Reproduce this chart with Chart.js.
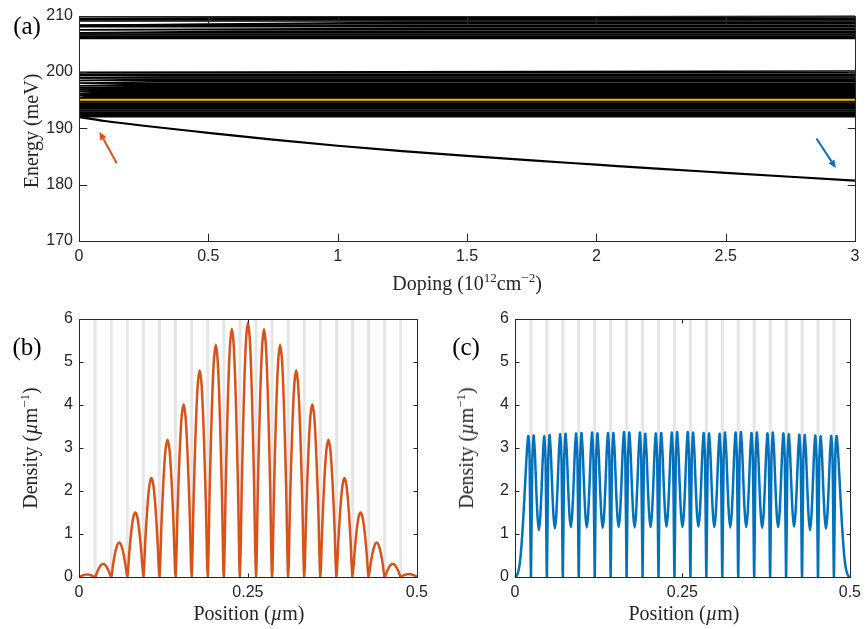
<!DOCTYPE html>
<html><head><meta charset="utf-8">
<script src="https://cdn.jsdelivr.net/npm/chart.js@4"></script>
<style>
html,body{margin:0;padding:0;background:#fff;}
body{width:867px;height:629px;position:relative;overflow:hidden;}
canvas{position:absolute;}
.t{position:absolute;font-family:'Liberation Serif','DejaVu Serif',serif;font-size:20px;color:#262626;white-space:nowrap;line-height:1;transform:translate(-50%,-50%);}
.t.rot{transform:translate(-50%,-50%) rotate(-90deg);}
.t sup{font-size:13px;position:relative;top:-8px;vertical-align:baseline;line-height:0;}
.p{position:absolute;font-family:'Liberation Serif','DejaVu Serif',serif;font-size:25px;color:#000;line-height:1;transform:translate(-50%,-50%);}
</style></head><body>
<canvas id="ca" width="867" height="300" style="left:0;top:0"></canvas>
<canvas id="cb" width="434" height="329" style="left:0;top:300px"></canvas>
<canvas id="cc" width="433" height="329" style="left:434px;top:300px"></canvas>
<div class="p" style="left:27px;top:25px">(a)</div>
<div class="p" style="left:27px;top:346px">(b)</div>
<div class="p" style="left:466px;top:346px">(c)</div>
<div class="t rot" style="left:31px;top:131px">Energy (meV)</div>
<div class="t" style="left:467px;top:283px">Doping (10<sup>12</sup>cm<sup>−2</sup>)</div>
<div class="t rot" style="left:30px;top:448px">Density (<i>µ</i>m<sup>−1</sup>)</div>
<div class="t rot" style="left:466px;top:448px">Density (<i>µ</i>m<sup>−1</sup>)</div>
<div class="t" style="left:249px;top:613px">Position (<i>µ</i>m)</div>
<div class="t" style="left:684px;top:613px">Position (<i>µ</i>m)</div>
<script>
// ---------------- data: panel (a) ----------------
const dopingTicks = [0, 0.5, 1, 1.5, 2, 2.5, 3];          // 10^12 cm^-2
const dopingTickLabels = ['0', '0.5', '1', '1.5', '2', '2.5', '3'];
const energyTicks = [170, 180, 190, 200, 210];              // meV
const energyTickLabels = ['170', '180', '190', '200', '210'];
const dopingRange = [0, 3];
// lower miniband: levels that stay flat with doping (meV)
const minibandLowFlat = [192.05,192.25,192.45,192.65,192.85,193.05,193.25,193.45,193.65,193.85,
  194.05,194.25,194.45,194.65,194.85,195.05,195.25,195.45,195.86,196.19,196.57,196.92,197.21,
  197.57,198.01,198.48,198.92,199.33,199.6,199.86];
// lower miniband: levels that move with doping, [doping, energy] vertices
const minibandLowMoving = [
  [[0,199.95],[3,200.18]],
  [[0,195.45],[0.03,195.655],[3,195.655]],
  [[0,195.86],[0.05,196.025],[3,196.025]],
  [[0,196.19],[0.08,196.38],[3,196.38]],
  [[0,196.57],[0.10,196.745],[3,196.745]],
  [[0,196.92],[0.13,197.065],[3,197.065]],
  [[0,197.21],[0.20,197.39],[3,197.39]],
  [[0,197.57],[0.22,197.79],[3,197.79]],
  [[0,198.01],[0.29,198.245],[3,198.245]],
  [[0,198.48],[0.30,198.70],[3,198.70]],
  [[0,198.92],[0.32,199.125],[3,199.125]]
];
// upper miniband
const minibandHighFlat = [205.95,206.15,206.35,206.55,206.75,206.95,207.48,208.0,208.3,209.05,209.28,209.5];
const minibandHighMoving = [
  [[0,206.95],[0.6,207.22],[3,207.22]],
  [[0,207.48],[1.33,207.74],[3,207.74]],
  [[0,208.3],[1.0,208.55],[3,208.55]],
  [[0,208.3],[1.27,208.8],[3,208.8]],
  [[0,209.5],[2.4,209.72],[3,209.74]],
  [[0,209.5],[2.8,209.95],[3,209.97]]
];
// bound state split off below the miniband
const boundDoping = [0, 0.1, 0.25, 0.5, 0.75, 1.0, 1.25, 1.5, 1.75, 2.0, 2.25, 2.5, 2.75, 3.0];
const boundEnergy = [192.0, 191.3, 190.45, 189.2, 188.0, 186.9, 185.95, 185.1, 184.3, 183.55, 182.8, 182.1, 181.4, 180.7];
const fermiEnergy = 195.05;
// arrows: [tail doping, tail energy, head doping, head energy]
const markerArrows = [[0.146, 183.8, 0.079, 189.4], [2.851, 188.2, 2.926, 182.95]];

// ---------------- data: panels (b), (c) ----------------
const positionTicks = [0, 0.25, 0.5];   // µm
const positionTickLabels = ['0', '0.25', '0.5'];
const densityTicks = [0, 1, 2, 3, 4, 5, 6];
const densityTickLabels = ['0', '1', '2', '3', '4', '5', '6'];
const barrierPos = [0.0238,0.0476,0.0714,0.0952,0.1190,0.1429,0.1667,0.1905,0.2143,0.2381,
  0.2619,0.2857,0.3095,0.3333,0.3571,0.3810,0.4048,0.4286,0.4524,0.4762];
const sampleStepB = 0.5 / 168;  // µm between samples of trace (b)
const densityB = [
0,0.02,0.04,0.055,0.06,0.055,0.04,0.02,
0,0.11,0.21,0.28,0.30,0.28,0.21,0.11,
0,0.31,0.57,0.74,0.80,0.74,0.57,0.31,
0,0.57,1.06,1.39,1.50,1.39,1.06,0.57,
0,0.88,1.63,2.13,2.30,2.13,1.63,0.88,
0,1.22,2.26,2.95,3.19,2.95,2.26,1.22,
0,1.54,2.84,3.71,4.02,3.71,2.84,1.54,
0,1.84,3.39,4.44,4.80,4.44,3.39,1.84,
0,2.07,3.82,4.99,5.40,4.99,3.82,2.07,
0,2.21,4.08,5.33,5.77,5.33,4.08,2.21,
0,2.27,4.19,5.47,5.92,5.47,4.19,2.27,
0,2.21,4.07,5.32,5.76,5.32,4.07,2.21,
0,2.07,3.82,4.99,5.40,4.99,3.82,2.07,
0,1.84,3.39,4.44,4.80,4.44,3.39,1.84,
0,1.54,2.84,3.71,4.02,3.71,2.84,1.54,
0,1.22,2.26,2.95,3.19,2.95,2.26,1.22,
0,0.88,1.63,2.13,2.30,2.13,1.63,0.88,
0,0.57,1.06,1.39,1.50,1.39,1.06,0.57,
0,0.31,0.57,0.74,0.80,0.74,0.57,0.31,
0,0.11,0.21,0.28,0.30,0.28,0.21,0.11,
0,0.03,0.05,0.065,0.07,0.065,0.05,0.03,
0];
const sampleStepC = 0.5 / 252;  // µm between samples of trace (c)
const densityC = [
0,0.02,0.08,0.2,0.42,0.78,1.25,1.8,2.4,2.95,3.28,2.72,
0,2.70,3.29,2.86,2.04,1.38,1.09,1.38,2.05,2.85,3.27,2.69,
0,2.71,3.30,2.87,2.06,1.41,1.13,1.41,2.07,2.88,3.32,2.73,
0,2.73,3.33,2.89,2.08,1.44,1.16,1.44,2.08,2.89,3.34,2.74,
0,2.74,3.35,2.90,2.08,1.43,1.15,1.43,2.08,2.90,3.36,2.75,
0,2.73,3.34,2.89,2.07,1.42,1.14,1.42,2.08,2.90,3.35,2.74,
0,2.74,3.35,2.90,2.08,1.44,1.16,1.44,2.09,2.91,3.37,2.76,
0,2.75,3.36,2.90,2.08,1.43,1.15,1.43,2.08,2.90,3.36,2.75,
0,2.73,3.33,2.88,2.07,1.44,1.16,1.44,2.08,2.89,3.34,2.74,
0,2.74,3.35,2.90,2.09,1.45,1.17,1.45,2.09,2.90,3.36,2.75,
0,2.75,3.37,2.91,2.09,1.44,1.16,1.44,2.09,2.91,3.37,2.75,
0,2.75,3.36,2.90,2.09,1.45,1.17,1.45,2.09,2.90,3.35,2.74,
0,2.74,3.34,2.89,2.08,1.44,1.16,1.44,2.07,2.88,3.33,2.73,
0,2.75,3.36,2.90,2.08,1.43,1.15,1.43,2.08,2.90,3.36,2.75,
0,2.76,3.37,2.91,2.09,1.44,1.16,1.44,2.08,2.90,3.35,2.74,
0,2.74,3.36,2.90,2.08,1.42,1.14,1.42,2.07,2.89,3.34,2.73,
0,2.75,3.36,2.90,2.08,1.44,1.16,1.44,2.08,2.89,3.34,2.74,
0,2.73,3.32,2.88,2.08,1.45,1.17,1.45,2.06,2.87,3.31,2.71,
0,2.71,3.30,2.86,2.04,1.38,1.09,1.38,2.04,2.86,3.29,2.70,
0,2.69,3.27,2.85,2.05,1.41,1.12,1.41,2.05,2.85,3.28,2.70,
0,2.72,3.28,2.95,2.4,1.8,1.25,0.78,0.42,0.2,0.08,0.02,
0];

// ---------------- styling & helpers ----------------
const INK = '#262626';
const tickFont = {family: "'Liberation Sans', Arial, sans-serif", size: 16};
function crisp(v){ return Math.round(v) + 0.5; }
function boxPlugin(tickLen){
  return {id:'box', afterDatasetsDraw(chart){
    const {ctx, chartArea:a} = chart; const xs = chart.scales.x, ys = chart.scales.y;
    const L = crisp(a.left), R = crisp(a.right), T = crisp(a.top), B = crisp(a.bottom);
    ctx.save(); ctx.strokeStyle = INK; ctx.lineWidth = 1; ctx.beginPath();
    xs.ticks.forEach(t => { const p = crisp(xs.getPixelForValue(t.value));
      ctx.moveTo(p, B); ctx.lineTo(p, B - tickLen); ctx.moveTo(p, T); ctx.lineTo(p, T + tickLen); });
    ys.ticks.forEach(t => { const p = crisp(ys.getPixelForValue(t.value));
      ctx.moveTo(L, p); ctx.lineTo(L + tickLen, p); ctx.moveTo(R, p); ctx.lineTo(R - tickLen, p); });
    ctx.rect(L, T, R - L, B - T);
    ctx.stroke(); ctx.restore();
  }};
}
const barrierPlugin = {id:'barriers', beforeDatasetsDraw(chart){
  const {ctx, chartArea:a} = chart; const xs = chart.scales.x;
  ctx.save(); ctx.strokeStyle = '#e6e6e6'; ctx.lineWidth = 3; ctx.beginPath();
  barrierPos.forEach(p => { const px = xs.getPixelForValue(p); ctx.moveTo(px, a.top); ctx.lineTo(px, a.bottom); });
  ctx.stroke(); ctx.restore();
}};
const arrowColors = ['#D95319', '#0072BD'];
const arrowPlugin = {id:'arrows', afterDatasetsDraw(chart){
  const {ctx} = chart; const xs = chart.scales.x, ys = chart.scales.y;
  markerArrows.forEach((ar, i) => {
    const x0 = xs.getPixelForValue(ar[0]), y0 = ys.getPixelForValue(ar[1]);
    const x1 = xs.getPixelForValue(ar[2]), y1 = ys.getPixelForValue(ar[3]);
    const ang = Math.atan2(y1 - y0, x1 - x0), hl = 8, hw = 3.5;
    const bx = x1 - hl * Math.cos(ang), by = y1 - hl * Math.sin(ang);
    ctx.save(); ctx.strokeStyle = arrowColors[i]; ctx.fillStyle = arrowColors[i]; ctx.lineWidth = 2;
    ctx.beginPath(); ctx.moveTo(x0, y0); ctx.lineTo(bx, by); ctx.stroke();
    ctx.beginPath(); ctx.moveTo(x1, y1);
    ctx.lineTo(bx + hw * Math.sin(ang), by - hw * Math.cos(ang));
    ctx.lineTo(bx - hw * Math.sin(ang), by + hw * Math.cos(ang));
    ctx.closePath(); ctx.fill(); ctx.restore();
  });
}};
function linearAxis(min, max, ticks, labels, fitProp, fitVal, pad){
  return {type:'linear', min, max,
    afterBuildTicks: s => { s.ticks = ticks.map(v => ({value: v})); },
    ticks:{font: tickFont, color: INK, padding: pad, maxRotation: 0, autoSkip: false,
      callback: (v, i) => labels[i]},
    grid:{display:false, drawTicks:false}, border:{display:false},
    afterFit: s => { s[fitProp] = fitVal; }};
}
function baseOptions(padding, xAxis, yAxis){
  return {responsive:false, animation:false, events:[],
    layout:{padding},
    plugins:{legend:{display:false}, tooltip:{enabled:false}},
    elements:{point:{radius:0}, line:{borderJoinStyle:'round', borderCapStyle:'butt'}},
    scales:{x:xAxis, y:yAxis}};
}
function levelLine(points, color, width, order){
  return {data: points.map(p => ({x:p[0], y:p[1]})), borderColor: color, borderWidth: width,
    pointRadius: 0, fill: false, tension: 0, order, clip: 0};
}

// ---------------- panel (a) ----------------
const dsA = [];
dsA.push(levelLine(dopingRange.map(d => [d, fermiEnergy]), '#EDB120', 2, 0));
dsA.push(Object.assign(levelLine(boundDoping.map((d, i) => [d, boundEnergy[i]]), '#000', 2.2, 1), {cubicInterpolationMode:'monotone'}));
minibandLowFlat.forEach(e => dsA.push(levelLine(dopingRange.map(d => [d, e]), '#000', 1.5, 5)));
minibandLowMoving.forEach(l => dsA.push(levelLine(l, '#000', 1.5, 4)));
minibandHighFlat.forEach(e => dsA.push(levelLine(dopingRange.map(d => [d, e]), '#000', 1.5, 5)));
minibandHighMoving.forEach(l => dsA.push(levelLine(l, '#000', 1.5, 4)));

new Chart(document.getElementById('ca'), {
  type:'line', data:{datasets: dsA},
  options: baseOptions({left:0, top:15, right:12, bottom:0},
    linearAxis(0, 3, dopingTicks, dopingTickLabels, 'height', 59, 6),
    linearAxis(170, 210, energyTicks, energyTickLabels, 'width', 79, 6)),
  plugins:[arrowPlugin, boxPlugin(7.8)]
});

// ---------------- panel (b) ----------------
new Chart(document.getElementById('cb'), {
  type:'line',
  data:{datasets:[{data: densityB.map((v, i) => ({x: i * sampleStepB, y: v})), borderColor:'#D95319',
    borderWidth:2.5, pointRadius:0, fill:false, tension:0.3, clip:2}]},
  options: baseOptions({left:0, top:19, right:15, bottom:0},
    linearAxis(0, 0.5, positionTicks, positionTickLabels, 'height', 52, 6),
    linearAxis(0, 6, densityTicks, densityTickLabels, 'width', 79, 6)),
  plugins:[barrierPlugin, boxPlugin(4)]
});

// ---------------- panel (c) ----------------
new Chart(document.getElementById('cc'), {
  type:'line',
  data:{datasets:[{data: densityC.map((v, i) => ({x: i * sampleStepC, y: v})), borderColor:'#0072BD',
    borderWidth:2.5, pointRadius:0, fill:false, tension:0.2, clip:2}]},
  options: baseOptions({left:0, top:19, right:14, bottom:0},
    linearAxis(0, 0.5, positionTicks, positionTickLabels, 'height', 52, 6),
    linearAxis(0, 6, densityTicks, densityTickLabels, 'width', 81, 6)),
  plugins:[barrierPlugin, boxPlugin(4)]
});
</script>
</body></html>
